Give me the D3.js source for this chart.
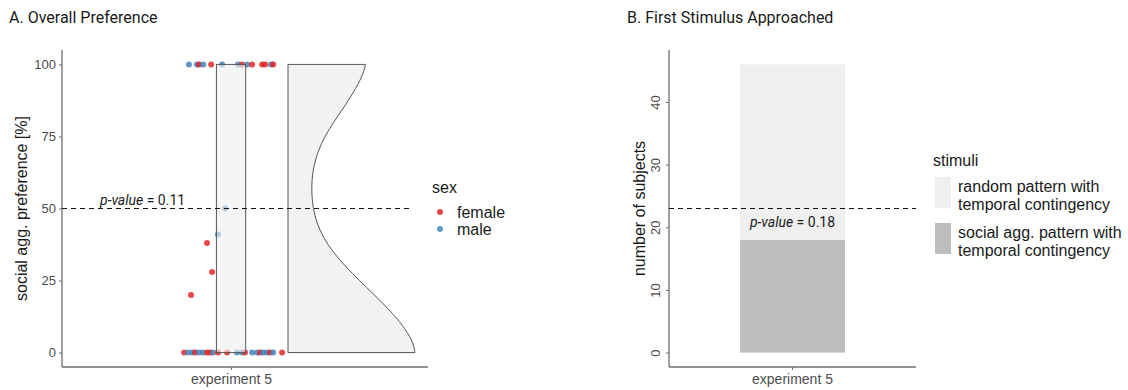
<!DOCTYPE html>
<html>
<head>
<meta charset="utf-8">
<script src="https://cdn.jsdelivr.net/npm/d3@7"></script>
<style>
  body { margin: 0; background: #fff; }
  text { font-family: "Liberation Sans", Arial, sans-serif; }
  .title, .pval { font-family: Roboto, sans-serif; }
</style>
</head>
<body>
<div id="chart"></div>
<script>
const w = 1128;
const h = 390;

// ---- data ----
const experiments = ["experiment 5"];

// preference values (%) per subject, sex and horizontal jitter (in x units)
const prefValues = [100,100,100,100,100,100,100,100,100,100,100,100,100,100,
    50,41,38,28,20,
    0,0,0,0,0,0,0,0,0,0,0,0,0,0,0,0,0,0,0,0,0,0];
const prefSex = ["male","male","female","male","female","male","male","female","male","female","female","female","male","female",
    "male","male","female","female","female",
    "female","male","male","female","male","male","female","female","male","female","female","male","male","female","male","male","female","male","male","female","male","female"];
const prefJitter = [-0.184,-0.149,-0.140,-0.122,-0.087,-0.039,0.031,0.048,0.070,0.092,0.136,0.149,0.175,0.184,
    -0.026,-0.057,-0.105,-0.083,-0.175,
    -0.205,-0.188,-0.170,-0.157,-0.140,-0.122,-0.105,-0.092,-0.079,-0.057,-0.017,0.026,0.048,0.061,0.092,0.114,0.127,0.140,0.157,0.170,0.184,0.223];

// half violin: relative density
const densityAt = [0, 3, 8, 15, 25, 35, 45, 55, 65, 75, 85, 92, 97, 100];
const densityVal = [1.0, 0.99, 0.93, 0.80, 0.56, 0.34, 0.215, 0.18, 0.195, 0.28, 0.44, 0.54, 0.595, 0.61];

const pValueA = "0.11";
const pValueB = "0.18";

// first stimulus approached counts
const stimuli = ["social agg. pattern with temporal contingency", "random pattern with temporal contingency"];
const stimulusCounts = [18, 28];
const stimulusColors = ["#bdbdbd", "#efefef"];

const sexes = ["female", "male"];
const sexColors = ["#e41a1c", "#377eb8"];

const svg = d3.select("#chart").append("svg")
    .attr("width", w)
    .attr("height", h);

const tickGrey = "#4d4d4d";
const axisGrey = "#6e6e6e";

/////////////////////////
// ### Panel A ###
/////////////////////////

const A = { left: 62, right: 428, top: 50, bottom: 367 };

svg.append("text").attr("class", "title")
    .attr("x", 9).attr("y", 23)
    .attr("font-size", 16).attr("fill", "#1a1a1a")
    .text("A. Overall Preference");

const yA = d3.scaleLinear().domain([-5, 105]).range([A.bottom, A.top]);
const xA = d3.scaleLinear().domain([0.261, 1.861]).range([A.left, A.right]);
const color = d3.scaleOrdinal().domain(sexes).range(sexColors);

// axes
const yAxisA = svg.append("g")
    .attr("transform", "translate(" + A.left + ",0)")
    .call(d3.axisLeft(yA).tickValues([0, 25, 50, 75, 100]).tickSize(3).tickPadding(3));
const xAxisA = svg.append("g")
    .attr("transform", "translate(0," + A.bottom + ")")
    .call(d3.axisBottom(xA).tickValues([1]).tickFormat(() => experiments[0]).tickSize(3).tickPadding(4));

[yAxisA, xAxisA].forEach(g => {
    g.select(".domain").attr("stroke", axisGrey).attr("stroke-width", 1.3);
    g.selectAll(".tick line").attr("stroke", axisGrey);
    g.selectAll(".tick text").attr("fill", tickGrey).attr("font-size", 13)
        .attr("font-family", "Liberation Sans, Arial, sans-serif");
});
xAxisA.selectAll(".tick text").attr("font-size", 14);
xAxisA.select(".domain").attr("d", "M" + A.left + ",0H" + A.right);
yAxisA.select(".domain").attr("d", "M0," + A.top + "V" + A.bottom);

svg.append("text")
    .attr("transform", "translate(27," + yA(50) + ") rotate(-90)")
    .attr("text-anchor", "middle")
    .attr("font-size", 16).attr("fill", "#1a1a1a")
    .text("social agg. preference [%]");

// points
const pts = prefValues.map((v, i) => ({ v: v, sex: prefSex[i], j: prefJitter[i] }));
svg.append("g").selectAll("circle")
    .data(pts)
    .enter()
    .append("circle")
    .attr("cx", d => xA(1 + d.j))
    .attr("cy", d => yA(d.v))
    .attr("r", 3)
    .attr("fill", d => color(d.sex))
    .attr("fill-opacity", 0.8);

// box spanning the range
const boxW = 0.064;
svg.append("rect")
    .attr("x", xA(1 - boxW))
    .attr("width", xA(1 + boxW) - xA(1 - boxW))
    .attr("y", yA(d3.max(prefValues)))
    .attr("height", yA(d3.min(prefValues)) - yA(d3.max(prefValues)))
    .attr("fill", "#eeeeee").attr("fill-opacity", 0.6)
    .attr("stroke", "#555").attr("stroke-width", 1);

// half violin
const violinBase = 1.249;
const violinWidth = 0.555;
const dens = densityAt.map((v, i) => [v, densityVal[i]]);
const violinPath = d3.line()
    .x(d => xA(violinBase + d[1] * violinWidth))
    .y(d => yA(d[0]))
    .curve(d3.curveBasis);
const edge = violinPath(dens);
svg.append("path")
    .attr("d", edge + "L" + xA(violinBase) + "," + yA(100) + "L" + xA(violinBase) + "," + yA(0) + "Z")
    .attr("fill", "#f2f2f2")
    .attr("stroke", "none");
svg.append("path")
    .attr("d", "M" + xA(violinBase + densityVal[0] * violinWidth) + "," + yA(0) + "L" + xA(violinBase) + "," + yA(0) +
        "L" + xA(violinBase) + "," + yA(100) + "L" + xA(violinBase + densityVal[densityVal.length - 1] * violinWidth) + "," + yA(100))
    .attr("fill", "none").attr("stroke", "#555").attr("stroke-width", 1);
svg.append("path")
    .attr("d", edge)
    .attr("fill", "none").attr("stroke", "#555").attr("stroke-width", 1);

// chance line + p value
svg.append("line")
    .attr("x1", A.left).attr("x2", 412)
    .attr("y1", yA(50)).attr("y2", yA(50))
    .attr("stroke", "#111").attr("stroke-dasharray", "5,4");
const pA = svg.append("text").attr("class", "pval")
    .attr("x", 100).attr("y", yA(50) - 4)
    .attr("font-size", 14).attr("fill", "#1a1a1a");
pA.append("tspan").attr("font-style", "italic").text("p-value");
pA.append("tspan").text(" = " + pValueA);

// legend sex
svg.append("text").attr("x", 432).attr("y", 193).attr("font-size", 16).attr("fill", "#1a1a1a").text("sex");
const legA = svg.append("g").selectAll("g")
    .data(sexes)
    .enter().append("g")
    .attr("transform", (d, i) => "translate(440," + (212 + i * 17) + ")");
legA.append("circle").attr("r", 3).attr("fill", d => color(d)).attr("fill-opacity", 0.8);
legA.append("text").attr("x", 17).attr("y", 5.5).attr("font-size", 16).attr("fill", "#1a1a1a").text(d => d);

/////////////////////////
// ### Panel B ###
/////////////////////////

const B = { left: 669, right: 916, top: 50, bottom: 367 };

svg.append("text").attr("class", "title")
    .attr("x", 627).attr("y", 23)
    .attr("font-size", 16).attr("fill", "#1a1a1a")
    .text("B. First Stimulus Approached");

const total = d3.sum(stimulusCounts);
const yB = d3.scaleLinear().domain([-total * 0.05, total * 1.05]).range([B.bottom, B.top]);
const xB = d3.scaleBand().domain(experiments).range([B.left, B.right]).paddingInner(0).paddingOuter(0.676);

const yAxisB = svg.append("g")
    .attr("transform", "translate(" + B.left + ",0)")
    .call(d3.axisLeft(yB).tickValues([0, 10, 20, 30, 40]).tickSize(3).tickPadding(3));
const xAxisB = svg.append("g")
    .attr("transform", "translate(0," + B.bottom + ")")
    .call(d3.axisBottom(xB).tickSize(3).tickPadding(4));

[yAxisB, xAxisB].forEach(g => {
    g.select(".domain").attr("stroke", axisGrey).attr("stroke-width", 1.3);
    g.selectAll(".tick line").attr("stroke", axisGrey);
    g.selectAll(".tick text").attr("fill", tickGrey).attr("font-size", 13)
        .attr("font-family", "Liberation Sans, Arial, sans-serif");
});
xAxisB.selectAll(".tick text").attr("font-size", 14);
xAxisB.select(".domain").attr("d", "M" + B.left + ",0H" + B.right);
yAxisB.select(".domain").attr("d", "M0," + B.top + "V" + B.bottom);
yAxisB.selectAll(".tick text")
    .attr("text-anchor", "middle")
    .attr("dy", null)
    .attr("x", 0).attr("y", 0)
    .attr("transform", "translate(-9,0) rotate(-90)");

svg.append("text")
    .attr("transform", "translate(645," + yB(total / 2) + ") rotate(-90)")
    .attr("text-anchor", "middle")
    .attr("font-size", 16).attr("fill", "#1a1a1a")
    .text("number of subjects");

// stacked bar
const stack = [];
let cum = 0;
stimulusCounts.forEach((c, i) => { stack.push({ y0: cum, y1: cum + c, col: stimulusColors[i] }); cum += c; });
svg.append("g").selectAll("rect")
    .data(stack)
    .enter().append("rect")
    .attr("x", xB(experiments[0]))
    .attr("width", xB.bandwidth())
    .attr("y", d => yB(d.y1))
    .attr("height", d => yB(d.y0) - yB(d.y1))
    .attr("fill", d => d.col);

svg.append("line")
    .attr("x1", B.left).attr("x2", B.right)
    .attr("y1", yB(total / 2)).attr("y2", yB(total / 2))
    .attr("stroke", "#111").attr("stroke-dasharray", "5,4");
const pB = svg.append("text").attr("class", "pval")
    .attr("x", xB(experiments[0]) + xB.bandwidth() / 2).attr("y", yB(total / 2) + 18)
    .attr("text-anchor", "middle")
    .attr("font-size", 14).attr("fill", "#1a1a1a");
pB.append("tspan").attr("font-style", "italic").text("p-value");
pB.append("tspan").text(" = " + pValueB);

// legend stimuli
svg.append("text").attr("x", 933).attr("y", 166).attr("font-size", 16).attr("fill", "#1a1a1a").text("stimuli");
const legendOrder = [1, 0];
const legB = svg.append("g").selectAll("g")
    .data(legendOrder)
    .enter().append("g")
    .attr("transform", (d, i) => "translate(935," + (177 + i * 46) + ")");
legB.append("rect").attr("width", 16).attr("height", 31).attr("fill", d => stimulusColors[d]);
legB.each(function(d) {
    const words = stimuli[d].split(" with ");
    const t = d3.select(this).append("text")
        .attr("x", 23).attr("font-size", 16).attr("fill", "#1a1a1a");
    t.append("tspan").attr("x", 23).attr("y", 15).text(words[0] + " with");
    t.append("tspan").attr("x", 23).attr("y", 33).text(words[1]);
});
</script>
</body>
</html>
